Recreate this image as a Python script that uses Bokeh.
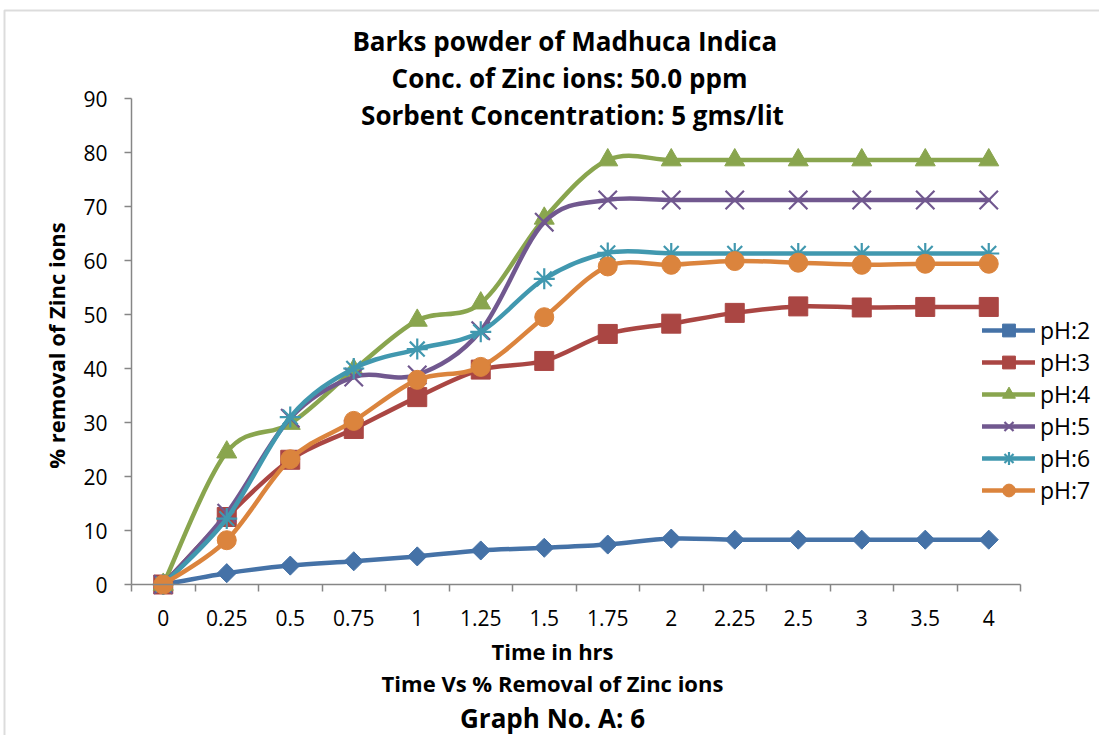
import numpy as np
from bokeh.plotting import figure
from bokeh.models import (Range1d, FixedTicker, Label, Legend, LegendItem,
                          ColumnDataSource, BoxAnnotation)
from bokeh.embed import file_html
from bokeh.resources import INLINE

# ---------------- data ----------------
time_labels = ["0", "0.25", "0.5", "0.75", "1", "1.25", "1.5", "1.75",
               "2", "2.25", "2.5", "3", "3.5", "4"]
ph2 = [0, 2.1, 3.5, 4.3, 5.2, 6.3, 6.8, 7.4, 8.5, 8.3, 8.3, 8.3, 8.3, 8.3]
ph3 = [0, 12.5, 23.1, 28.8, 34.7, 39.8, 41.4, 46.4, 48.3, 50.3, 51.5, 51.3, 51.4, 51.4]
ph4 = [0, 24.5, 29.8, 39.7, 48.9, 52.1, 67.8, 78.6, 78.6, 78.6, 78.6, 78.6, 78.6, 78.6]
ph5 = [0, 13.2, 30.8, 38.4, 38.8, 47.0, 67.1, 71.2, 71.2, 71.2, 71.2, 71.2, 71.2, 71.2]
ph6 = [0, 12.2, 31.0, 40.0, 43.6, 46.8, 56.6, 61.4, 61.3, 61.3, 61.3, 61.3, 61.3, 61.3]
ph7 = [0, 8.2, 23.2, 30.3, 37.9, 40.3, 49.5, 58.9, 59.2, 59.9, 59.6, 59.2, 59.4, 59.4]
series_names = ["pH:2", "pH:3", "pH:4", "pH:5", "pH:6", "pH:7"]
y_ticks = [0, 10, 20, 30, 40, 50, 60, 70, 80, 90]
y_max = 90

FONT = "Open Sans"
colors = ["#4572A7", "#AA4643", "#89A54E", "#71588F", "#4198AF", "#DB843D"]
AXIS_COL = "#868686"

W, H = 1099, 735
# plot-area geometry on the canvas (pixels)
PL, PR, PT, PB = 131, 1020, 98, 584
n_cat = len(time_labels)
px_per_cat = (PR - PL) / n_cat
px_per_unit = (PB - PT) / y_max

# the frame covers the whole canvas; axes are pinned with fixed_location
x_start = -0.5 - PL / px_per_cat
x_end = -0.5 + (W - PL) / px_per_cat
y_start = -(H - PB) / px_per_unit
y_end = PB / px_per_unit

p = figure(width=W, height=H, output_backend="svg", toolbar_location=None,
           x_range=Range1d(x_start, x_end), y_range=Range1d(y_start, y_end),
           min_border=0, min_border_left=0, min_border_right=0,
           min_border_top=0, min_border_bottom=0)
p.outline_line_color = None
p.xgrid.visible = False
p.ygrid.visible = False
p.background_fill_color = "white"
p.border_fill_color = "white"

x_idx = list(range(n_cat))

xa = p.xaxis[0]
xa.fixed_location = 0
xa.bounds = (-0.5, n_cat - 0.5)
xa.ticker = FixedTicker(ticks=x_idx, minor_ticks=[i - 0.5 for i in range(n_cat + 1)])
xa.major_label_overrides = {i: lab for i, lab in enumerate(time_labels)}
xa.major_tick_out = 0
xa.major_tick_in = 0
xa.minor_tick_out = 7
xa.minor_tick_in = 0
xa.minor_tick_line_color = AXIS_COL
xa.minor_tick_line_width = 1.5
xa.axis_line_color = AXIS_COL
xa.axis_line_width = 1.5
xa.major_label_text_font = FONT
xa.major_label_text_font_size = "21px"
xa.major_label_text_color = "black"
xa.major_label_standoff = 18

ya = p.yaxis[0]
ya.fixed_location = -0.5
ya.bounds = (0, y_max)
ya.ticker = FixedTicker(ticks=y_ticks)
ya.major_tick_out = 7
ya.major_tick_in = 0
ya.minor_tick_out = 0
ya.minor_tick_in = 0
ya.major_tick_line_color = AXIS_COL
ya.major_tick_line_width = 1.5
ya.axis_line_color = AXIS_COL
ya.axis_line_width = 1.5
ya.major_label_text_font = FONT
ya.major_label_text_font_size = "21px"
ya.major_label_text_color = "black"
ya.major_label_standoff = 17


def bezier_source(ys):
    n = len(ys)
    xs = x_idx
    d = dict(x0=[], y0=[], x1=[], y1=[], cx0=[], cy0=[], cx1=[], cy1=[])
    for i in range(n - 1):
        a = i - 1 if i > 0 else i
        b = i + 2 if i + 2 < n else i + 1
        d["x0"].append(xs[i]); d["y0"].append(ys[i])
        d["x1"].append(xs[i + 1]); d["y1"].append(ys[i + 1])
        d["cx0"].append(xs[i] + (xs[i + 1] - xs[a]) / 6.0)
        d["cy0"].append(ys[i] + (ys[i + 1] - ys[a]) / 6.0)
        d["cx1"].append(xs[i + 1] - (xs[b] - xs[i]) / 6.0)
        d["cy1"].append(ys[i + 1] - (ys[b] - ys[i]) / 6.0)
    return ColumnDataSource(d)


all_series = [ph2, ph3, ph4, ph5, ph6, ph7]
marker_specs = [
    dict(marker="square", size=13.5, angle=np.pi / 4, filled=True),
    dict(marker="square", size=19, angle=0, filled=True),
    dict(marker="triangle", size=20, angle=0, filled=True),
    dict(marker="x", size=26, angle=0, filled=False),
    dict(marker="asterisk", size=21, angle=0, filled=False),
    dict(marker="circle", size=19, angle=0, filled=True),
]

items = []
for ys, name, col, ms in zip(all_series, series_names, colors, marker_specs):
    src = bezier_source(ys)
    r_line = p.bezier(x0="x0", y0="y0", x1="x1", y1="y1", cx0="cx0", cy0="cy0",
                      cx1="cx1", cy1="cy1", source=src, line_color=col,
                      line_width=4.5, line_cap="round")
    if ms["filled"]:
        r_m = p.scatter(x_idx, ys, marker=ms["marker"], size=ms["size"], angle=ms["angle"],
                        fill_color=col, line_color=col, line_width=1)
    else:
        r_m = p.scatter(x_idx, ys, marker=ms["marker"], size=ms["size"],
                        line_color=col, line_width=2.2, fill_color=None)
    items.append(LegendItem(label=name, renderers=[r_line, r_m]))

GH = 32
legend_top = 410 - 3 * GH
legend = Legend(items=items, location=(982, H - (legend_top + 6 * GH)),
                orientation="vertical", glyph_width=53, glyph_height=GH,
                label_height=GH, spacing=0, padding=0, margin=0,
                label_standoff=5, label_text_font=FONT, label_text_font_size="23px",
                label_text_color="black", border_line_color=None,
                background_fill_alpha=0)
p.add_layout(legend, "center")

# outer chart border (left and top edges visible)
p.add_layout(BoxAnnotation(left=4, right=W + 20, top=H - 10, bottom=-20,
                           left_units="screen", right_units="screen",
                           top_units="screen", bottom_units="screen",
                           fill_alpha=0, line_color="#8c8c8c", line_width=2))


def add_text(txt, cx, base_y, size, bold=True, angle=0.0, baseline="alphabetic"):
    p.add_layout(Label(x=cx, y=H - base_y, x_units="screen", y_units="screen",
                       text=txt, text_font=FONT, text_font_size=size,
                       text_font_style="bold" if bold else "normal",
                       text_align="center", text_baseline=baseline, angle=angle,
                       text_color="black"))


add_text("Barks  powder of  Madhuca Indica", 571, 40, "26px")
add_text("Conc. of Zinc ions: 50.0 ppm", 569, 77, "26px")
add_text("Sorbent Concentration: 5 gms/lit", 572, 114, "26px")
add_text("Time in hrs", 552, 650, "22px")
add_text("Time Vs % Removal of Zinc ions", 552, 682, "22px")
add_text("Graph No. A: 6", 552, 717, "26px")
add_text("% removal of Zinc ions", 55, 345, "22px", angle=np.pi / 2, baseline="middle")

open("out.html", "w").write(file_html(p, INLINE))
